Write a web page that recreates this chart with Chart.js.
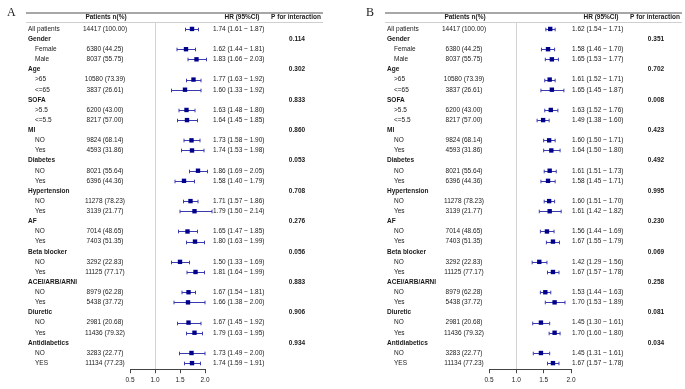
<!DOCTYPE html>
<html lang="en">
<head>
  <meta charset="UTF-8">
  <title>Subgroup analysis forest plots</title>
  <script src="https://cdn.jsdelivr.net/npm/chart.js"></script>
  <style>
    html, body { margin: 0; padding: 0; background: #fff; }
    .panel { position: absolute; top: 0; }
  </style>
</head>
<body>
  <canvas id="chartA" class="panel" width="342" height="389" style="left:0"></canvas>
  <canvas id="chartB" class="panel" width="326" height="389" style="left:359px"></canvas>

  <script>
    // rows of the table, top to bottom
    const rowLabels = ['All patients', 'Gender', 'Female', 'Male', 'Age', '>65', '<=65', 'SOFA', '>5.5', '<=5.5',
      'MI', 'NO', 'Yes', 'Diabetes', 'NO', 'Yes', 'Hypertension', 'NO', 'Yes', 'AF', 'NO', 'Yes',
      'Beta blocker', 'NO', 'Yes', 'ACEI/ARB/ARNI', 'NO', 'Yes', 'Diuretic', 'NO', 'Yes', 'Antidiabetics', 'NO', 'YES'];
    const groupHeader = [false, true, false, false, true, false, false, true, false, false,
      true, false, false, true, false, false, true, false, false, true, false, false,
      true, false, false, true, false, false, true, false, false, true, false, false];

    const patientsN = [14417, null, 6380, 8037, null, 10580, 3837, null, 6200, 8217, null, 9824, 4593, null, 8021, 6396,
      null, 11278, 3139, null, 7014, 7403, null, 3292, 11125, null, 8979, 5438, null, 2981, 11436, null, 3283, 11134];
    const patientsPct = [100.00, null, 44.25, 55.75, null, 73.39, 26.61, null, 43.00, 57.00, null, 68.14, 31.86, null, 55.64, 44.36,
      null, 78.23, 21.77, null, 48.65, 51.35, null, 22.83, 77.17, null, 62.28, 37.72, null, 20.68, 79.32, null, 22.77, 77.23];

    // panel A
    const hrA = [1.74, null, 1.62, 1.83, null, 1.77, 1.60, null, 1.63, 1.64, null, 1.73, 1.74, null, 1.86, 1.58,
      null, 1.71, 1.79, null, 1.65, 1.80, null, 1.50, 1.81, null, 1.67, 1.66, null, 1.67, 1.79, null, 1.73, 1.74];
    const loA = [1.61, null, 1.44, 1.66, null, 1.63, 1.33, null, 1.48, 1.45, null, 1.58, 1.53, null, 1.69, 1.40,
      null, 1.57, 1.50, null, 1.47, 1.63, null, 1.33, 1.64, null, 1.54, 1.38, null, 1.45, 1.63, null, 1.49, 1.59];
    const hiA = [1.87, null, 1.81, 2.03, null, 1.92, 1.92, null, 1.80, 1.85, null, 1.90, 1.98, null, 2.05, 1.79,
      null, 1.86, 2.14, null, 1.85, 1.99, null, 1.69, 1.99, null, 1.81, 2.00, null, 1.92, 1.95, null, 2.00, 1.91];
    const pA = [null, 0.114, null, null, 0.302, null, null, 0.833, null, null, 0.860, null, null, 0.053, null, null,
      0.708, null, null, 0.276, null, null, 0.056, null, null, 0.883, null, null, 0.906, null, null, 0.934, null, null];

    // panel B
    const hrB = [1.62, null, 1.58, 1.65, null, 1.61, 1.65, null, 1.63, 1.49, null, 1.60, 1.64, null, 1.61, 1.58,
      null, 1.60, 1.61, null, 1.56, 1.67, null, 1.42, 1.67, null, 1.53, 1.70, null, 1.45, 1.70, null, 1.45, 1.67];
    const loB = [1.54, null, 1.46, 1.53, null, 1.52, 1.45, null, 1.52, 1.38, null, 1.50, 1.50, null, 1.51, 1.45,
      null, 1.51, 1.42, null, 1.44, 1.55, null, 1.29, 1.57, null, 1.44, 1.53, null, 1.30, 1.60, null, 1.31, 1.57];
    const hiB = [1.71, null, 1.70, 1.77, null, 1.71, 1.87, null, 1.76, 1.60, null, 1.71, 1.80, null, 1.73, 1.71,
      null, 1.70, 1.82, null, 1.69, 1.79, null, 1.56, 1.78, null, 1.63, 1.89, null, 1.61, 1.80, null, 1.61, 1.78];
    const pB = [null, 0.351, null, null, 0.702, null, null, 0.008, null, null, 0.423, null, null, 0.492, null, null,
      0.995, null, null, 0.230, null, null, 0.069, null, null, 0.258, null, null, 0.081, null, null, 0.034, null, null];

    const columnHeaders = ['Patients n(%)', 'HR (95%CI)', 'P for interaction'];
    const xTicks = [0.5, 1, 1.5, 2];

    const FONT = '"Liberation Sans", Arial, sans-serif';
    const TEXT = '#1a1a1a';
    Chart.defaults.font.family = FONT;

    function makePanel(id, letter, hr, lo, hi, pv, plotRight) {
      const canvas = document.getElementById(id);
      const W = canvas.width;

      // whiskers for the confidence intervals
      const ciPlugin = {
        id: 'ci_' + id,
        beforeDatasetsDraw(chart) {
          const { ctx, scales: { x, y } } = chart;
          ctx.save();
          ctx.strokeStyle = '#3b3bb0';
          ctx.lineWidth = 1;
          hr.forEach((v, i) => {
            if (v == null) return;
            const yy = Math.round(y.getPixelForValue(i)) + 0.5;
            const x1 = x.getPixelForValue(lo[i]);
            const x2 = x.getPixelForValue(hi[i]);
            ctx.beginPath();
            ctx.moveTo(x1, yy); ctx.lineTo(x2, yy);
            ctx.moveTo(x1, yy - 1.8); ctx.lineTo(x1, yy + 1.8);
            ctx.moveTo(x2, yy - 1.8); ctx.lineTo(x2, yy + 1.8);
            ctx.stroke();
          });
          ctx.restore();
        }
      };

      // table text, header and rules
      const tablePlugin = {
        id: 'table_' + id,
        afterDraw(chart) {
          const { ctx, scales: { y }, chartArea } = chart;
          ctx.save();
          ctx.fillStyle = TEXT;
          ctx.textBaseline = 'middle';

          ctx.font = '12px "Liberation Serif", serif';
          ctx.textAlign = 'left';
          ctx.fillText(letter, 7, 13);

          ctx.strokeStyle = '#8a8a8a';
          ctx.lineWidth = 1.5;
          ctx.beginPath(); ctx.moveTo(26, 13); ctx.lineTo(323, 13); ctx.stroke();
          ctx.strokeStyle = '#cfcfcf';
          ctx.lineWidth = 1;
          ctx.beginPath(); ctx.moveTo(26, chartArea.top + 0.5); ctx.lineTo(323, chartArea.top + 0.5); ctx.stroke();

          const headY = 17.5;
          ctx.font = 'bold 6.5px ' + FONT;
          ctx.textAlign = 'center';
          ctx.fillText(columnHeaders[0], 106, headY);
          ctx.fillText(columnHeaders[1], 242, headY);
          ctx.fillText(columnHeaders[2], 296, headY);

          rowLabels.forEach((lab, i) => {
            const yy = y.getPixelForValue(i);
            ctx.textAlign = 'left';
            if (groupHeader[i]) {
              ctx.font = 'bold 6.5px ' + FONT;
              ctx.fillText(lab, 28, yy);
            } else {
              ctx.font = '6.5px ' + FONT;
              ctx.fillText(lab, i === 0 ? 28 : 35, yy);
            }
            if (patientsN[i] != null) {
              ctx.font = '6.5px ' + FONT;
              ctx.textAlign = 'center';
              ctx.fillText(patientsN[i] + ' (' + patientsPct[i].toFixed(2) + ')', 105, yy);
            }
            if (hr[i] != null) {
              ctx.font = '6.5px ' + FONT;
              ctx.textAlign = 'left';
              ctx.fillText(hr[i].toFixed(2) + ' (' + lo[i].toFixed(2) + ' ~ ' + hi[i].toFixed(2) + ')', 213, yy);
            }
            if (pv[i] != null) {
              ctx.font = 'bold 6.5px ' + FONT;
              ctx.textAlign = 'center';
              ctx.fillText(pv[i].toFixed(3), 297, yy);
            }
          });
          ctx.restore();
        }
      };

      const points = [];
      hr.forEach((v, i) => { if (v != null) points.push({ x: v, y: i }); });

      return new Chart(canvas, {
        type: 'scatter',
        data: {
          datasets: [{
            data: points,
            pointStyle: 'rect',
            pointRadius: 3.1,
            pointHoverRadius: 3.1,
            backgroundColor: '#00008b',
            borderColor: '#00008b',
            borderWidth: 0,
            clip: false
          }]
        },
        options: {
          responsive: false,
          animation: false,
          events: [],
          layout: { padding: { left: 130, right: W - plotRight, top: 22, bottom: 2 } },
          plugins: { legend: { display: false }, tooltip: { enabled: false } },
          scales: {
            x: {
              type: 'linear',
              min: 0.5,
              max: 2,
              afterBuildTicks: scale => { scale.ticks = xTicks.map(v => ({ value: v })); },
              ticks: { color: TEXT, font: { size: 6.5 }, padding: 3 },
              grid: {
                color: c => (c.tick && c.tick.value === 1) ? '#d4d4d4' : 'rgba(0,0,0,0)',
                tickColor: '#444',
                tickLength: 4,
                lineWidth: 1
              },
              border: { color: '#444', width: 1 }
            },
            y: {
              type: 'linear',
              display: false,
              reverse: true,
              min: -0.686,
              max: 33.6
            }
          }
        },
        plugins: [ciPlugin, tablePlugin]
      });
    }

    makePanel('chartA', 'A', hrA, loA, hiA, pA, 205);
    makePanel('chartB', 'B', hrB, loB, hiB, pB, 212);
  </script>
</body>
</html>
